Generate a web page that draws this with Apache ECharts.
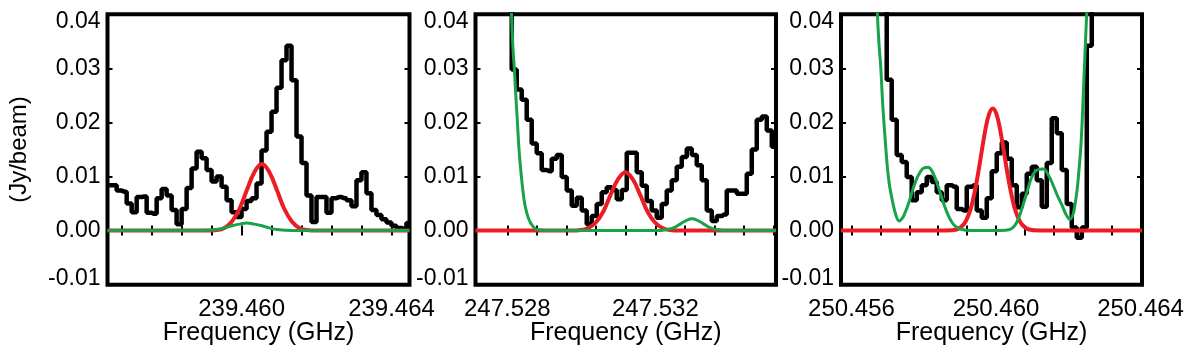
<!DOCTYPE html>
<html>
<head>
<meta charset="utf-8">
<title>Spectra</title>
<script src="https://cdn.jsdelivr.net/npm/echarts@6.0.0/dist/echarts.min.js"></script>
<style>
  html, body { margin: 0; padding: 0; background: #fff; }
  #chart { width: 1200px; height: 351px; }
</style>
</head>
<body>
<div id="chart"></div>
<script>
// ---- data ----
// panel 1 : 239.46 GHz window
const p1Range = [239.45642, 239.46448]
const p1XLabels = [239.460, 239.464]
const p1XTicks = [239.4568, 239.4576, 239.4584, 239.4592, 239.4600, 239.4608, 239.4616, 239.4624, 239.4632, 239.4640]
const p1ChanStart = 239.456465
const p1ChanWidth = 0.00013333
const p1Flux = [
  0.0084, 0.0084, 0.0074, 0.0072, 0.0050, 0.0034, 0.0062, 0.0063, 0.0033, 0.0031,
  0.0060, 0.0077, 0.0065, 0.0038, 0.0012, 0.0040, 0.0079, 0.0115, 0.0146, 0.0134,
  0.0112, 0.0091, 0.0100, 0.0081, 0.0056, 0.0034, 0.0025, 0.0040, 0.0055, 0.0060,
  0.0087, 0.0148, 0.0183, 0.0220, 0.0264, 0.0315, 0.0342, 0.0278, 0.0174, 0.0125,
  0.0065, 0.0016, 0.0062, 0.0062, 0.0033, 0.0060, 0.0062, 0.0060, 0.0056, 0.0045,
  0.0093, 0.0108, 0.0069, 0.0038, 0.0029, 0.0021, 0.0015, 0.0009, 0.0005, 0.0003,
  0.0014
]
const p1RedFreq = [239.45642, 239.45904, 239.45934, 239.45954, 239.45974, 239.45994, 239.46014, 239.46034, 239.46054,
  239.46074, 239.46094, 239.46114, 239.46134, 239.46154, 239.46174, 239.46204, 239.46448]
const p1RedFlux = [0, 0, 0.0001, 0.0005, 0.0017, 0.0040, 0.0075, 0.0108, 0.0123,
  0.0108, 0.0075, 0.0040, 0.0017, 0.0005, 0.0001, 0, 0]
const p1GreenFreq = [239.45642, 239.45894, 239.45934, 239.45954, 239.45974, 239.45994, 239.46014,
  239.46034, 239.46054, 239.46074, 239.46094, 239.46134, 239.46448]
const p1GreenFlux = [0, 0, 0.0002, 0.0005, 0.0009, 0.0012, 0.0014, 0.0012, 0.0009, 0.0005, 0.0002, 0, 0]

// panel 2 : 247.53 GHz window
const p2Range = [247.52714, 247.53526]
const p2XLabels = [247.528, 247.532]
const p2XTicks = [247.5280, 247.5288, 247.5296, 247.5304, 247.5312, 247.5320, 247.5328, 247.5336, 247.5344, 247.5352]
const p2ChanStart = 247.528051
const p2ChanWidth = 0.00013514
const p2Flux = [
  0.0500, 0.0298, 0.0261, 0.0242, 0.0205, 0.0161, 0.0143, 0.0112, 0.0110, 0.0133,
  0.0140, 0.0099, 0.0074, 0.0046, 0.0061, 0.0037, 0.0012, 0.0027, 0.0049, 0.0071,
  0.0080, 0.0075, 0.0058, 0.0075, 0.0144, 0.0144, 0.0108, 0.0083, 0.0055, 0.0037,
  0.0024, 0.0049, 0.0074, 0.0093, 0.0118, 0.0136, 0.0152, 0.0140, 0.0121, 0.0093,
  0.0037, 0.0018, 0.0027, 0.0030, 0.0074, 0.0074, 0.0068, 0.0068, 0.0105, 0.0150,
  0.0205, 0.0211, 0.0185, 0.0155
]
const p2RedFreq = [247.52714, 247.52969, 247.52999, 247.53019, 247.53039, 247.53059, 247.53079, 247.53099, 247.53119,
  247.53139, 247.53159, 247.53179, 247.53199, 247.53219, 247.53239, 247.53269, 247.53526]
const p2RedFlux = [0, 0, 0.0001, 0.0005, 0.0015, 0.0035, 0.0066, 0.0095, 0.0108,
  0.0095, 0.0066, 0.0035, 0.0015, 0.0005, 0.0001, 0, 0]
const p2GreenFreq = [247.528045, 247.528113, 247.528154, 247.528189, 247.528229, 247.52827, 247.528316, 247.52837,
  247.528424, 247.528478, 247.528559, 247.52864, 247.528748, 247.528883, 247.529099,
  247.53209, 247.53229, 247.53249, 247.53269, 247.53284, 247.53299, 247.53314, 247.53329,
  247.53349, 247.53369, 247.53389, 247.53526]
const p2GreenFlux = [0.050, 0.040, 0.0335, 0.030, 0.025, 0.0204, 0.015, 0.0107,
  0.0072, 0.0047, 0.0025, 0.0013, 0.0004, 0.0001, 0,
  0, 0.0002, 0.0005, 0.0013, 0.0019, 0.0022, 0.0019, 0.0013,
  0.0005, 0.0002, 0, 0]

// panel 3 : 250.46 GHz window
const p3Range = [250.45571, 250.46404]
const p3XLabels = [250.456, 250.460, 250.464]
const p3XTicks = [250.4560, 250.4568, 250.4576, 250.4584, 250.4592, 250.4600, 250.4608, 250.4616, 250.4624, 250.4632, 250.4640]
const p3ChanStart = 250.456906
const p3ChanWidth = 0.00013841
const p3Flux = [
  0.0500, 0.0279, 0.0205, 0.0140, 0.0127, 0.0099, 0.0056, 0.0071, 0.0084, 0.0099,
  0.0090, 0.0071, 0.0056, 0.0084, 0.0081, 0.0040, 0.0037, 0.0081, 0.0084, 0.0037,
  0.0024, 0.0060, 0.0110, 0.0143, 0.0163, 0.0133, 0.0084, 0.0043, 0.0068, 0.0105,
  0.0118, 0.0093, 0.0044, 0.0125, 0.0208, 0.0180, 0.0112, 0.0049, 0.0006, -0.0013,
  0.0006, 0.0342, 0.0500, 0.0500
]
const p3RedFreq = [250.45571, 250.45861, 250.45891, 250.45911, 250.45921, 250.45931, 250.45941, 250.45951, 250.45961,
  250.45971, 250.45981, 250.45991, 250.46001, 250.46011, 250.46021, 250.46031, 250.46041, 250.46051,
  250.46061, 250.46071, 250.46091, 250.46121, 250.46404]
const p3RedFlux = [0, 0, 0.0002, 0.0012, 0.0024, 0.0043, 0.0072, 0.0108, 0.0149,
  0.0188, 0.0216, 0.0226, 0.0216, 0.0188, 0.0149, 0.0108, 0.0072, 0.0043,
  0.0024, 0.0012, 0.0002, 0, 0]
const p3GreenFreq = [250.456665, 250.456715, 250.456762, 250.456809, 250.456859, 250.45692, 250.456983, 250.457039,
  250.457094, 250.457149, 250.457232, 250.457316, 250.457399, 250.457482, 250.457579, 250.457675,
  250.457786, 250.457897, 250.458008, 250.458118, 250.458229, 250.45834, 250.45845, 250.458561,
  250.458672, 250.458783, 250.458893, 250.459059, 250.459281, 250.460111, 250.460388, 250.460527,
  250.460637, 250.460756, 250.460873, 250.460989, 250.461136, 250.46131, 250.461454, 250.461587,
  250.461703, 250.461819, 250.461938, 250.462049, 250.462132, 250.462188, 250.462243, 250.462279,
  250.462354, 250.462417, 250.462464, 250.462511, 250.462547, 250.462575]
const p3GreenFlux = [0.050, 0.0404, 0.0345, 0.0304, 0.0240, 0.0180, 0.0125, 0.0090,
  0.0068, 0.0050, 0.0028, 0.0018, 0.0022, 0.0033, 0.0050, 0.0071,
  0.0093, 0.0108, 0.0116, 0.0117, 0.0110, 0.0093, 0.0071, 0.0048,
  0.0029, 0.0015, 0.0007, 0.0002, 0.0000, 0.0000, 0.0002, 0.0010,
  0.0025, 0.0049, 0.0075, 0.0099, 0.0112, 0.0114, 0.0102, 0.0083,
  0.0064, 0.0048, 0.0030, 0.0021, 0.0030, 0.0049, 0.0075, 0.0099,
  0.0162, 0.0255, 0.0330, 0.0404, 0.0460, 0.0500]

// ---- chart ----
const FONT = "'Liberation Sans', Arial, Helvetica, sans-serif"
const chart = echarts.init(document.getElementById('chart'))

const panels = [
  { range: p1Range, labels: p1XLabels, ticks: p1XTicks, start: p1ChanStart, width: p1ChanWidth, flux: p1Flux,
    red: [p1RedFreq, p1RedFlux], green: [p1GreenFreq, p1GreenFlux], left: 107.5, gw: 302 },
  { range: p2Range, labels: p2XLabels, ticks: p2XTicks, start: p2ChanStart, width: p2ChanWidth, flux: p2Flux,
    red: [p2RedFreq, p2RedFlux], green: [p2GreenFreq, p2GreenFlux], left: 475.5, gw: 300.5 },
  { range: p3Range, labels: p3XLabels, ticks: p3XTicks, start: p3ChanStart, width: p3ChanWidth, flux: p3Flux,
    red: [p3RedFreq, p3RedFlux], green: [p3GreenFreq, p3GreenFlux], left: 841, gw: 301 }
]

const zip = (xs, ys) => xs.map((x, i) => [x, ys[i]])

const grid = [], xAxis = [], yAxis = [], series = []
const tickStyle = { color: '#000', width: 2 }

panels.forEach((p, i) => {
  grid.push({
    left: p.left, top: 14.3, width: p.gw, height: 270.4,
    outerBoundsMode: 'none', containLabel: false,
    show: true, borderColor: '#000', borderWidth: 4, backgroundColor: 'transparent'
  })
  // bottom axis, with labels and name
  xAxis.push({
    type: 'value', gridIndex: i, position: 'bottom', min: p.range[0], max: p.range[1],
    name: 'Frequency (GHz)', nameLocation: 'middle', nameGap: 36, nameMoveOverlap: false,
    nameTextStyle: { fontSize: 25, fontFamily: FONT, color: '#000' },
    axisLine: { show: false },
    axisTick: { show: true, inside: true, length: 5, customValues: p.ticks, lineStyle: tickStyle },
    axisLabel: {
      customValues: p.labels, fontSize: 24, fontFamily: FONT, color: '#000', margin: 13,
      formatter: v => v.toFixed(3)
    },
    splitLine: { show: false }
  })
  // top axis, ticks only
  xAxis.push({
    type: 'value', gridIndex: i, position: 'top', min: p.range[0], max: p.range[1],
    axisLine: { show: false },
    axisTick: { show: true, inside: true, length: 5, customValues: p.ticks, lineStyle: tickStyle },
    axisLabel: { show: false },
    splitLine: { show: false }
  })
  yAxis.push({
    type: 'value', gridIndex: i, position: 'left', min: -0.01, max: 0.04, interval: 0.01,
    name: i === 0 ? '(Jy/beam)' : '', nameLocation: 'middle', nameGap: 76, nameMoveOverlap: false,
    nameTextStyle: { fontSize: 24, fontFamily: FONT, color: '#000' },
    axisLine: { show: false },
    axisTick: { show: true, inside: true, length: 5, lineStyle: tickStyle },
    axisLabel: {
      fontSize: 23, fontFamily: FONT, color: '#000', margin: 7,
      formatter: v => {
        const s = v.toFixed(2)
        if (Math.abs(v - 0.04) < 1e-9) return '{hi|' + s + '}'
        if (Math.abs(v + 0.01) < 1e-9) return '{lo|' + s + '}'
        return s
      },
      rich: {
        hi: { fontSize: 23, fontFamily: FONT, color: '#000', padding: [14, 0, 0, 0] },
        lo: { fontSize: 23, fontFamily: FONT, color: '#000', padding: [0, 0, 12, 0] }
      }
    },
    splitLine: { show: false }
  })
  yAxis.push({
    type: 'value', gridIndex: i, position: 'right', min: -0.01, max: 0.04, interval: 0.01,
    axisLine: { show: false },
    axisTick: { show: true, inside: true, length: 5, lineStyle: tickStyle },
    axisLabel: { show: false },
    splitLine: { show: false }
  })

  const hist = p.flux.map((v, k) => [p.start + k * p.width, v])
  series.push({
    type: 'line', xAxisIndex: 2 * i, yAxisIndex: 2 * i, data: hist,
    step: 'middle', symbol: 'none', clip: true,
    lineStyle: { color: '#000', width: 4.5 }, z: 2
  })
  series.push({
    type: 'line', xAxisIndex: 2 * i, yAxisIndex: 2 * i, data: zip(p.red[0], p.red[1]),
    smooth: 0.4, symbol: 'none', clip: true,
    lineStyle: { color: '#ec1c24', width: 4 }, z: 3
  })
  series.push({
    type: 'line', xAxisIndex: 2 * i, yAxisIndex: 2 * i, data: zip(p.green[0], p.green[1]),
    smooth: 0.4, symbol: 'none', clip: true,
    lineStyle: { color: '#17a348', width: 3 }, z: 4
  })
})

chart.setOption({
  animation: false,
  backgroundColor: '#fff',
  grid: grid,
  xAxis: xAxis,
  yAxis: yAxis,
  series: series
})
</script>
</body>
</html>
